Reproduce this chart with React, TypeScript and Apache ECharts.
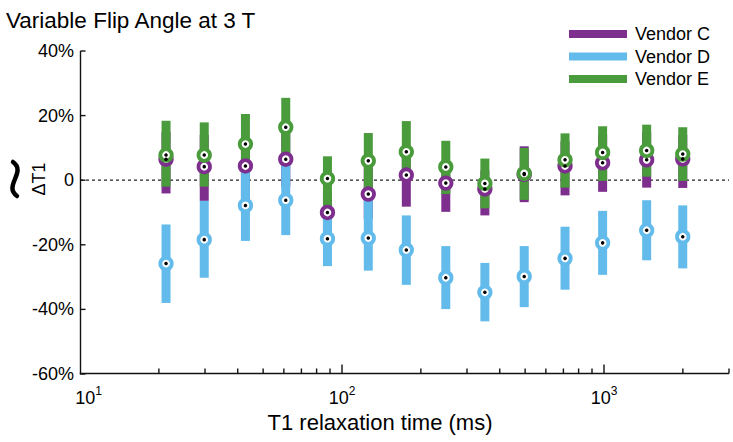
import React, { useEffect, useRef } from "react";
import * as echarts from "echarts";

// T1 relaxation times (ms) of the phantom spheres
const T1_VALUES = [21.3, 29.8, 42.8, 61, 88, 126, 176, 249, 351, 496, 710, 988, 1455, 1998];

// Vendor C (purple)
const C_MEAN = [6.5, 4.2, 4.4, 6.5, -10.0, -4.3, 1.6, -0.9, -2.7, 1.8, 4.4, 5.4, 6.3, 6.6];
const C_LOW = [-4.1, -6.4, -6, -2, -16, -12, -8.2, -9.8, -10.9, -6.8, -4.7, -3.6, -2.3, -2.4];
const C_HIGH = [15, 14, 12, 15, -4, 4, 10, 6, 3, 10.5, 12, 14, 15, 14];

// Vendor D (blue)
const D_MEAN = [-25.8, -18.4, -7.8, -6.2, -18.1, -17.9, -21.6, -30.2, -34.7, -29.8, -24.2, -19.4, -15.5, -17.5];
const D_LOW = [-38.0, -30.2, -18.8, -17.0, -26.6, -28.0, -32.4, -39.9, -43.7, -39.3, -33.9, -29.3, -24.8, -27.3];
const D_HIGH = [-13.7, -6.4, 4, 6, -11, -5.5, -10.9, -20.4, -25.6, -20.4, -14.4, -9.5, -6.2, -7.8];

// Vendor E (green)
const E_MEAN = [7.8, 7.8, 11.2, 16.4, 0.5, 6.0, 8.8, 4.1, -1.0, 2.1, 6.3, 8.6, 9.2, 8.1];
const E_LOW = [-2.0, -2.0, 4, 7, -9, -3, 2, -4.3, -8.7, -6.1, -2.3, -0.2, 1.1, -0.2];
const E_HIGH = [18.4, 17.9, 20.5, 25.5, 7.4, 14.6, 18.3, 12.2, 6.7, 10.0, 14.5, 16.7, 17.2, 16.4];

const VENDORS = ["Vendor C", "Vendor D", "Vendor E"];
const COLORS = ["#7E2F8E", "#63BBEB", "#4A9B3C"];

const X_MIN = 10;
const X_MAX = 3000;
const X_MAJOR_TICKS = [100, 1000];
const X_MINOR_TICKS = [20, 30, 40, 50, 60, 70, 80, 90, 200, 300, 400, 500, 600, 700, 800, 900, 2000, 3000];
const Y_MIN = -60;
const Y_MAX = 40;
const Y_INTERVAL = 20;
const Y_TICKS = [-60, -40, -20, 0, 20, 40];

const FONT = "'Liberation Sans', Arial, Helvetica, sans-serif";
const AXIS_COLOR = "#111";

const groups = [
  { mean: C_MEAN, low: C_LOW, high: C_HIGH },
  { mean: D_MEAN, low: D_LOW, high: D_HIGH },
  { mean: E_MEAN, low: E_LOW, high: E_HIGH },
];

export default function App() {
  const ref = useRef<HTMLDivElement>(null);

  useEffect(() => {
    if (!ref.current) return;
    const chart = echarts.init(ref.current, undefined, { renderer: "svg" });

    const barSeries = groups.map((g, i) => ({
      type: "custom",
      name: VENDORS[i],
      z: 2,
      color: COLORS[i],
      encode: { x: 0, y: [1, 2] },
      data: T1_VALUES.map((x, k) => [x, g.low[k], g.high[k]]),
      renderItem: (params: any, api: any) => {
        const x = api.value(0);
        const p1 = api.coord([x, api.value(2)]);
        const p2 = api.coord([x, api.value(1)]);
        return {
          type: "rect",
          shape: { x: p1[0] - 4.5, y: p1[1], width: 9, height: p2[1] - p1[1] },
          style: { fill: COLORS[i] },
        };
      },
    }));

    const ringSeries = groups.map((g, i) => ({
      type: "scatter",
      name: VENDORS[i] + " ring",
      z: 3,
      symbol: "circle",
      symbolSize: 11.5,
      itemStyle: { color: "#ffffff", borderColor: COLORS[i], borderWidth: 3.8, opacity: 1 },
      data: T1_VALUES.map((x, k) => [x, g.mean[k]]),
    }));

    const dotSeries = groups.map((g, i) => ({
      type: "scatter",
      name: VENDORS[i] + " dot",
      z: 4,
      symbol: "circle",
      symbolSize: 3.5,
      itemStyle: { color: "#000000", opacity: 1 },
      data: T1_VALUES.map((x, k) => [x, g.mean[k]]),
    }));

    const zeroLine = {
      type: "line",
      name: "zero",
      z: 1,
      symbol: "none",
      lineStyle: { color: "#222", width: 1.2, type: [3, 3] },
      data: [
        [X_MIN, 0],
        [X_MAX, 0],
      ],
    };

    // Ticks drawn through the axes' scales
    const axisTicks = {
      type: "custom",
      name: "axis ticks",
      z: 6,
      clip: false,
      silent: true,
      encode: { x: 0, y: 1 },
      data: [[X_MAX, Y_MIN]],
      renderItem: (params: any, api: any) => {
        const cs = params.coordSys;
        const left = cs.x + 0.5;
        const bottom = cs.y + cs.height - 0.5;
        const mk = () => ({ stroke: AXIS_COLOR, lineWidth: 1.4 });
        const children: any[] = [];
        Y_TICKS.forEach((v) => {
          const p = api.coord([X_MAX, v]);
          children.push({ type: "line", shape: { x1: left, y1: p[1], x2: left + 5, y2: p[1] }, style: mk() });
        });
        X_MAJOR_TICKS.forEach((v) => {
          const p = api.coord([v, Y_MIN]);
          children.push({ type: "line", shape: { x1: p[0], y1: bottom, x2: p[0], y2: bottom - 9 }, style: mk() });
        });
        X_MINOR_TICKS.forEach((v) => {
          const p = api.coord([v, Y_MIN]);
          children.push({ type: "line", shape: { x1: p[0], y1: bottom, x2: p[0], y2: bottom - 5 }, style: mk() });
        });
        return { type: "group", children };
      },
    };

    chart.setOption({
      animation: false,
      title: {
        text: "Variable Flip Angle at 3 T",
        left: 1,
        top: 4,
        textStyle: { fontFamily: FONT, fontSize: 22.5, fontWeight: "normal", color: "#000" },
      },
      legend: {
        orient: "vertical",
        left: 569,
        top: 24,
        padding: 0,
        itemWidth: 58,
        itemHeight: 8,
        itemGap: 2.5,
        icon: "rect",
        data: VENDORS.map((n, i) => ({ name: n, icon: "rect", itemStyle: { color: COLORS[i] } })),
        textStyle: { fontFamily: FONT, fontSize: 18, color: "#000", lineHeight: 20, padding: [0, 0, 0, 3] },
        selectedMode: false,
      },
      grid: { left: 80, right: 4, top: 51, bottom: 68, containLabel: false },
      xAxis: {
        type: "log",
        logBase: 10,
        min: X_MIN,
        max: X_MAX,
        position: "bottom",
        name: "T1 relaxation time (ms)",
        nameLocation: "middle",
        nameGap: 33,
        nameTextStyle: { fontFamily: FONT, fontSize: 22, color: "#000", padding: [0, 49, 0, 0] },
        axisLine: { show: false, onZero: false },
        axisTick: { show: false },
        splitLine: { show: false },
        minorTick: { show: false },
        axisLabel: {
          margin: 11,
          showMaxLabel: false,
          formatter: (v: number) => {
            const e = Math.round(Math.log10(v));
            return v <= 10.5 ? `{pad| }{b|10}{s|${e}}` : `{b|10}{s|${e}}`;
          },
          rich: {
            pad: { width: 17, fontSize: 18, lineHeight: 22 },
            b: { fontFamily: FONT, fontSize: 18, color: "#000", lineHeight: 22, verticalAlign: "bottom" },
            s: { fontFamily: FONT, fontSize: 12, color: "#000", lineHeight: 12, verticalAlign: "top" },
          },
        },
      },
      yAxis: {
        type: "value",
        min: Y_MIN,
        max: Y_MAX,
        interval: Y_INTERVAL,
        position: "left",
        axisLine: { show: false, onZero: false },
        axisTick: { show: false },
        splitLine: { show: false },
        axisLabel: {
          margin: 6,
          fontFamily: FONT,
          fontSize: 18,
          color: "#000",
          formatter: (v: number) => (v === 0 ? "0" : `${v}%`),
        },
      },
      graphic: [
        {
          type: "text",
          x: 39,
          y: 179,
          rotation: Math.PI / 2,
          style: {
            text: "ΔT1",
            fontFamily: FONT,
            fontSize: 18,
            fill: "#000",
            align: "center",
            verticalAlign: "middle",
          },
        },
        {
          type: "bezierCurve",
          shape: { x1: 17, y1: 196, cpx1: 3, cpy1: 186, cpx2: 27, cpy2: 172, x2: 13, y2: 162 },
          style: { stroke: "#000", lineWidth: 4.5, fill: null, lineCap: "round" },
        },
      ],
      series: [zeroLine, ...barSeries, ...ringSeries, ...dotSeries, axisTicks],
    });

    // Axis lines: corners obtained from the chart's own coordinate conversion
    const px = (v: [number, number]) => chart.convertToPixel({ gridIndex: 0 }, v) as number[];
    const topLeftY = px([X_MAX, Y_MAX])[1];
    const bottomY = px([X_MAX, Y_MIN])[1];
    const rightX = px([X_MAX, Y_MIN])[0];
    const leftX = px([100, Y_MIN])[0] - (px([1000, Y_MIN])[0] - px([100, Y_MIN])[0]);
    chart.setOption({
      graphic: [
        {
          id: "axis-left",
          type: "rect",
          z: 100,
          shape: { x: leftX - 0.2, y: topLeftY, width: 1.4, height: bottomY - topLeftY + 0.6 },
          style: { fill: AXIS_COLOR },
        },
        {
          id: "axis-bottom",
          type: "rect",
          z: 100,
          shape: { x: leftX - 0.2, y: bottomY - 1.2, width: rightX - leftX + 0.2, height: 1.4 },
          style: { fill: AXIS_COLOR },
        },
      ],
    });

    return () => chart.dispose();
  }, []);

  return (
    <div
      ref={ref}
      style={{ position: "absolute", left: 0, top: 0, width: 733, height: 442, background: "#fff" }}
    />
  );
}
